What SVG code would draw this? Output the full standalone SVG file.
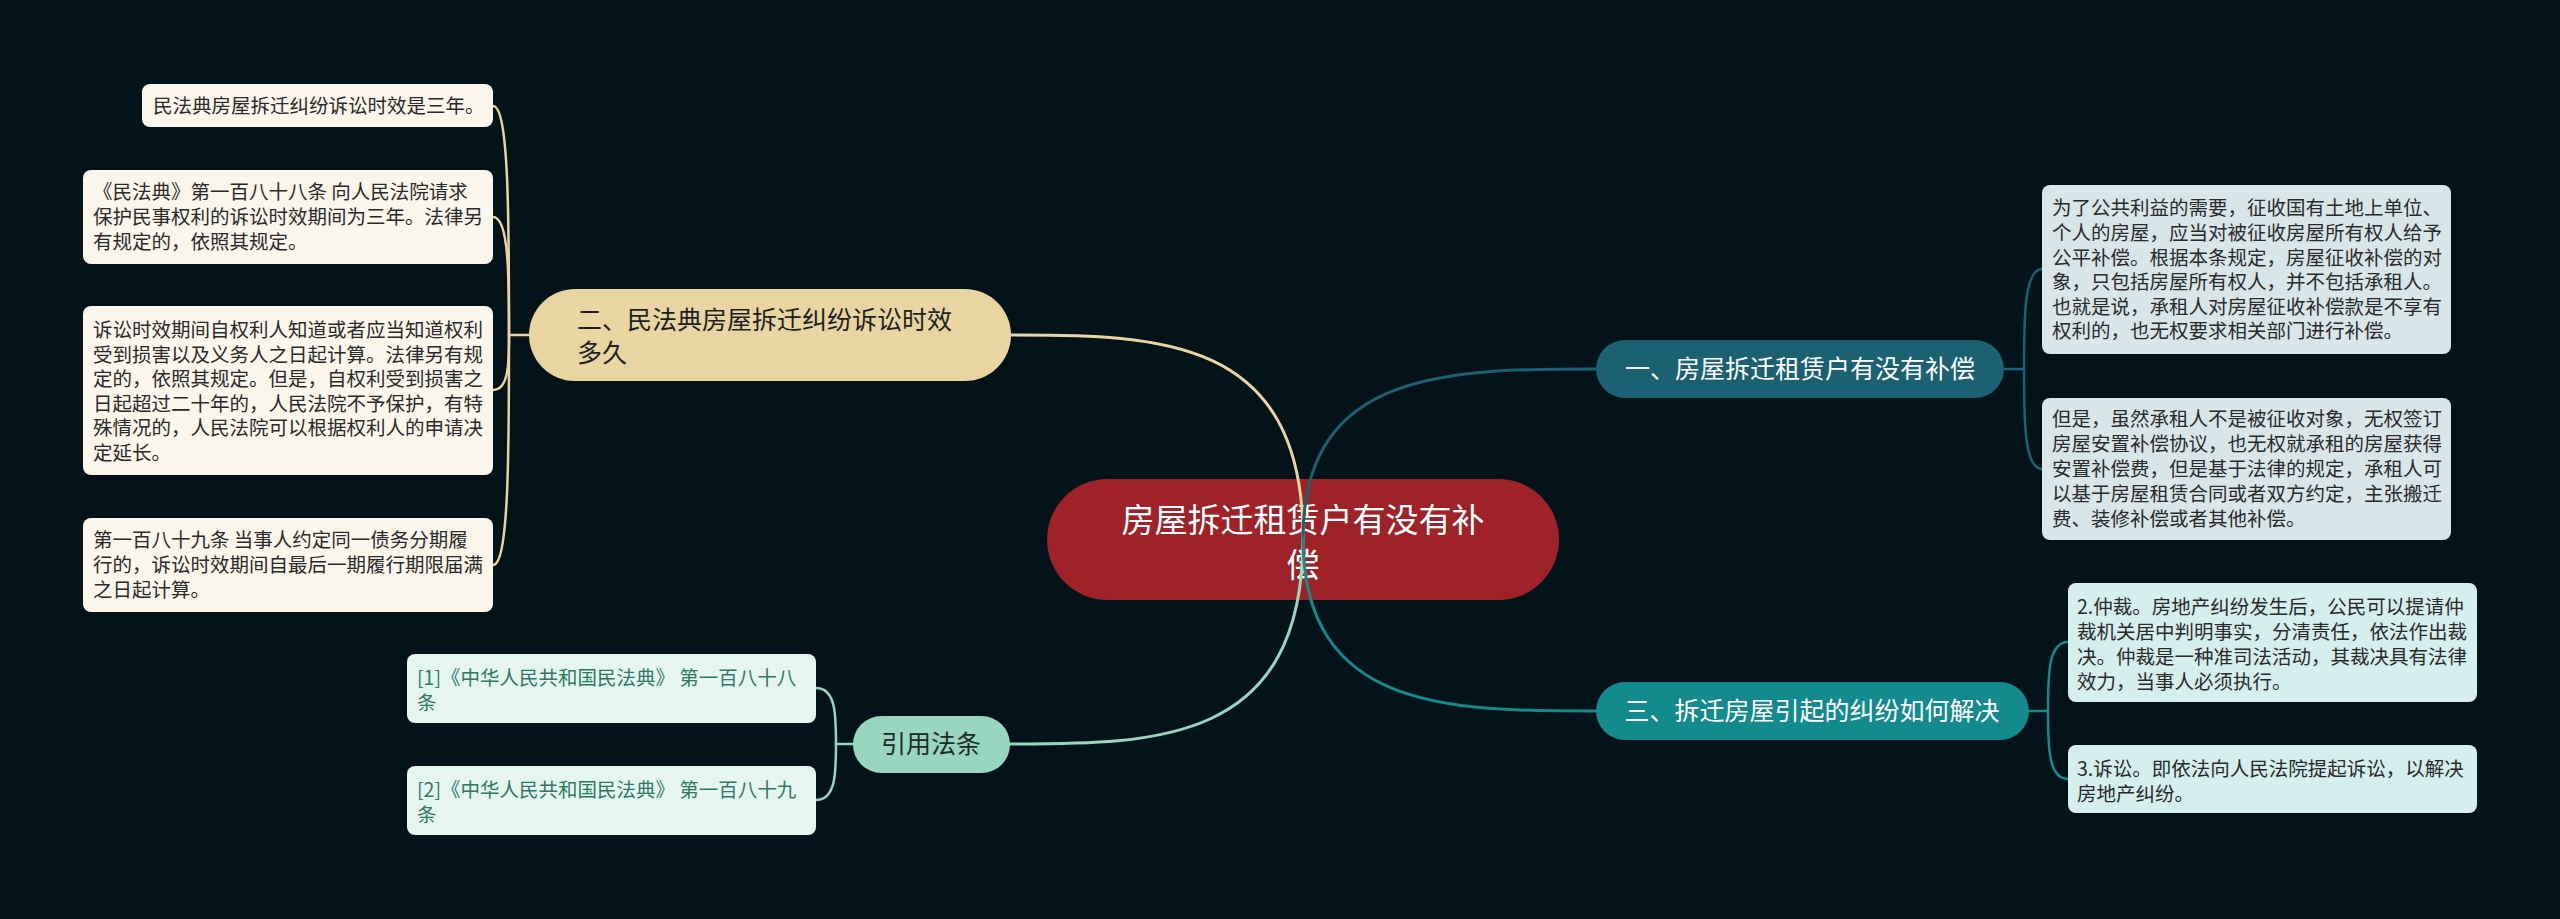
<svg xmlns="http://www.w3.org/2000/svg" width="2560" height="919" viewBox="0 0 2560 919">
<style>
text{font-family:"Noto Sans CJK SC","Noto Sans",sans-serif;}
.leaf{font-size:19.5px;fill:#2a2a2a;}
.cite{font-size:19.5px;fill:#2e7a60;}
.br{font-size:25px;}
.c{fill:none;stroke-linecap:round;}
</style>
<rect width="2560" height="919" fill="#04121a"/>
<g id="center">
<rect x="1047" y="479" width="512" height="121" rx="60.5" fill="#9e2227"/>
<text x="1303" y="532" text-anchor="middle" font-size="33" fill="#ffffff">房屋拆迁租赁户有没有补</text>
<text x="1303" y="577" text-anchor="middle" font-size="33" fill="#ffffff">偿</text>
</g>
<g id="connectors">
<path class="c" d="M1303 538 C1303 335 1157 335 1011 335" stroke="#e8d5a1" stroke-width="3"/>
<path class="c" d="M1303 538 C1303 744 1157 744 1010 744" stroke="#98d6c0" stroke-width="3"/>
<path class="c" d="M1303 538 C1303 369 1450 369 1596 369" stroke="#1b6172" stroke-width="3"/>
<path class="c" d="M1303 538 C1303 711 1450 711 1596 711" stroke="#138a8d" stroke-width="3"/>
<g stroke="#e8d5a1" stroke-width="2.5" class="c">
<path d="M529 335 L509 335"/>
<path d="M493 106 C509 106 509 220 509 335"/>
<path d="M493 217 C509 217 509 276 509 335"/>
<path d="M493 390 C509 390 509 362 509 335"/>
<path d="M493 565 C509 565 509 450 509 335"/>
</g>
<g stroke="#98d6c0" stroke-width="2.5" class="c">
<path d="M853 744 L836 744"/>
<path d="M816 688 C836 688 836 716 836 744"/>
<path d="M816 800 C836 800 836 772 836 744"/>
</g>
<g stroke="#1b6172" stroke-width="2.5" class="c">
<path d="M2004 369 L2024 369"/>
<path d="M2042 269 C2024 269 2024 319 2024 369"/>
<path d="M2042 469 C2024 469 2024 419 2024 369"/>
</g>
<g stroke="#138a8d" stroke-width="2.5" class="c">
<path d="M2029 711 L2048 711"/>
<path d="M2068 642 C2048 642 2048 676 2048 711"/>
<path d="M2068 779 C2048 779 2048 745 2048 711"/>
</g>
</g>
<g id="b2">
<rect x="529" y="289" width="482" height="92" rx="46" fill="#e8d5a1"/>
<text class="br" x="577" y="329" fill="#1f1f1f">二、民法典房屋拆迁纠纷诉讼时效</text>
<text class="br" x="577" y="362" fill="#1f1f1f">多久</text>
</g>
<g id="l1">
<rect x="142" y="84" width="351" height="43" rx="8" fill="#faf6ec"/>
<text class="leaf" x="153" y="113">民法典房屋拆迁纠纷诉讼时效是三年。</text>
</g>
<g id="l2">
<rect x="83" y="170" width="410" height="94" rx="8" fill="#faf6ec"/>
<text class="leaf" x="93" y="199">《民法典》第一百八十八条 向人民法院请求</text>
<text class="leaf" x="93" y="224">保护民事权利的诉讼时效期间为三年。法律另</text>
<text class="leaf" x="93" y="249">有规定的，依照其规定。</text>
</g>
<g id="l3">
<rect x="83" y="306" width="410" height="169" rx="8" fill="#faf6ec"/>
<text class="leaf" x="93" y="337">诉讼时效期间自权利人知道或者应当知道权利</text>
<text class="leaf" x="93" y="362">受到损害以及义务人之日起计算。法律另有规</text>
<text class="leaf" x="93" y="386">定的，依照其规定。但是，自权利受到损害之</text>
<text class="leaf" x="93" y="411">日起超过二十年的，人民法院不予保护，有特</text>
<text class="leaf" x="93" y="435">殊情况的，人民法院可以根据权利人的申请决</text>
<text class="leaf" x="93" y="460">定延长。</text>
</g>
<g id="l4">
<rect x="83" y="518" width="410" height="94" rx="8" fill="#faf6ec"/>
<text class="leaf" x="93" y="547">第一百八十九条 当事人约定同一债务分期履</text>
<text class="leaf" x="93" y="572">行的，诉讼时效期间自最后一期履行期限届满</text>
<text class="leaf" x="93" y="597">之日起计算。</text>
</g>
<g id="cite">
<rect x="853" y="716" width="157" height="57" rx="28.5" fill="#98d6c0"/>
<text class="br" x="931" y="753" text-anchor="middle" fill="#1f2a26">引用法条</text>
</g>
<g id="cite1">
<rect x="407" y="654" width="409" height="69" rx="8" fill="#e7f5f0"/>
<text class="cite" x="417" y="685">[1]《中华人民共和国民法典》 第一百八十八</text>
<text class="cite" x="417" y="710">条</text>
</g>
<g id="cite2">
<rect x="407" y="766" width="409" height="69" rx="8" fill="#e7f5f0"/>
<text class="cite" x="417" y="797">[2]《中华人民共和国民法典》 第一百八十九</text>
<text class="cite" x="417" y="822">条</text>
</g>
<g id="b1">
<rect x="1596" y="340" width="408" height="58" rx="29" fill="#1b6172"/>
<text class="br" x="1800" y="378" text-anchor="middle" fill="#ffffff">一、房屋拆迁租赁户有没有补偿</text>
</g>
<g id="r1">
<rect x="2042" y="185" width="409" height="169" rx="8" fill="#d8e6ea"/>
<text class="leaf" x="2052" y="215">为了公共利益的需要，征收国有土地上单位、</text>
<text class="leaf" x="2052" y="240">个人的房屋，应当对被征收房屋所有权人给予</text>
<text class="leaf" x="2052" y="265">公平补偿。根据本条规定，房屋征收补偿的对</text>
<text class="leaf" x="2052" y="289">象，只包括房屋所有权人，并不包括承租人。</text>
<text class="leaf" x="2052" y="314">也就是说，承租人对房屋征收补偿款是不享有</text>
<text class="leaf" x="2052" y="338">权利的，也无权要求相关部门进行补偿。</text>
</g>
<g id="r2">
<rect x="2042" y="398" width="409" height="142" rx="8" fill="#d8e6ea"/>
<text class="leaf" x="2052" y="426">但是，虽然承租人不是被征收对象，无权签订</text>
<text class="leaf" x="2052" y="451">房屋安置补偿协议，也无权就承租的房屋获得</text>
<text class="leaf" x="2052" y="476">安置补偿费，但是基于法律的规定，承租人可</text>
<text class="leaf" x="2052" y="501">以基于房屋租赁合同或者双方约定，主张搬迁</text>
<text class="leaf" x="2052" y="526">费、装修补偿或者其他补偿。</text>
</g>
<g id="b3">
<rect x="1596" y="682" width="433" height="58" rx="29" fill="#138a8d"/>
<text class="br" x="1812" y="720" text-anchor="middle" fill="#ffffff">三、拆迁房屋引起的纠纷如何解决</text>
</g>
<g id="r3">
<rect x="2068" y="583" width="409" height="119" rx="8" fill="#d5eeee"/>
<text class="leaf" x="2077" y="614">2.仲裁。房地产纠纷发生后，公民可以提请仲</text>
<text class="leaf" x="2077" y="639">裁机关居中判明事实，分清责任，依法作出裁</text>
<text class="leaf" x="2077" y="664">决。仲裁是一种准司法活动，其裁决具有法律</text>
<text class="leaf" x="2077" y="689">效力，当事人必须执行。</text>
</g>
<g id="r4">
<rect x="2068" y="745" width="409" height="68" rx="8" fill="#d5eeee"/>
<text class="leaf" x="2077" y="776">3.诉讼。即依法向人民法院提起诉讼，以解决</text>
<text class="leaf" x="2077" y="801">房地产纠纷。</text>
</g>
</svg>
